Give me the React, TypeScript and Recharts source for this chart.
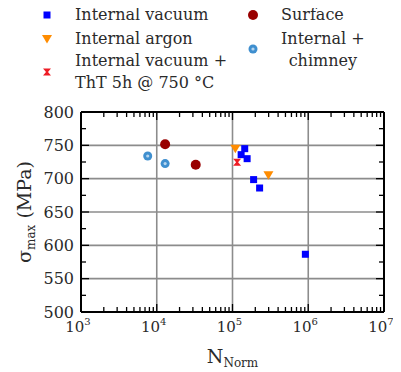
import React from 'react'
import {
  ScatterChart,
  Scatter,
  XAxis,
  YAxis,
  CartesianGrid,
  Label,
} from 'recharts'

// cycles (N_Norm) and max stress (MPa)
const vacuumN = [145000, 130000, 156000, 190000, 228000, 916000]
const vacuumS = [745, 736, 730, 698.6, 686, 586.6]
const argonN = [109000, 298000]
const argonS = [745, 705]
const thtN = [115000]
const thtS = [724.5]
const surfaceN = [12900, 32700]
const surfaceS = [751.5, 721]
const chimneyN = [7600, 12900]
const chimneyS = [734, 722.6]

const decades = [1e3, 1e4, 1e5, 1e6, 1e7]
const minorMult = [2, 3, 4, 5, 6, 7, 8, 9]
const yTicks = [500, 525, 550, 575, 600, 625, 650, 675, 700, 725, 750, 775, 800]
const yLabels = [500, 550, 600, 650, 700, 750, 800]
const gridX = [1e4, 1e5, 1e6]
const gridY = [550, 600, 650, 700, 750]

const xTicks: number[] = [...decades]
decades.slice(0, 4).forEach((d) => minorMult.forEach((m) => xTicks.push(d * m)))
xTicks.sort((a, b) => a - b)

const pts = (xs: number[], ys: number[]) => xs.map((x, i) => ({ x, y: ys[i] }))

const FONT = '"DejaVu Serif", "Liberation Serif", serif'
const TXT = '#2a2a2a'

const isDecade = (v: number) => decades.some((d) => Math.abs(d - v) < 1e-6 * d)

const Square = ({ cx, cy }: any) => (
  <rect x={cx - 3.5} y={cy - 3.5} width={7} height={7} fill="#0000ff" />
)
const TriDown = ({ cx, cy }: any) => (
  <path d={`M${cx - 5},${cy - 4} L${cx + 5},${cy - 4} L${cx},${cy + 4.5} Z`} fill="#ff8c00" />
)
const Hourglass = ({ cx, cy }: any) => (
  <path
    d={`M${cx - 4},${cy - 3.5} H${cx + 4} L${cx + 1},${cy} L${cx + 4},${cy + 3.5} H${cx - 4} L${cx - 1},${cy} Z`}
    fill="#ee1c25"
  />
)
const Dot = ({ cx, cy }: any) => <circle cx={cx} cy={cy} r={5} fill="#990000" />
const Ring = ({ cx, cy }: any) => (
  <g>
    <circle cx={cx} cy={cy} r={4.5} fill="#3f8fcf" />
    <circle cx={cx} cy={cy} r={1.6} fill="#b5d5ef" />
  </g>
)

const BottomTick = ({ x, y, payload }: any) => {
  const v = payload.value
  const major = isDecade(v)
  return (
    <g>
      <line x1={x} x2={x} y1={y} y2={y - (major ? 8 : 5)} stroke="#000" strokeWidth={1.3} />
      {major && (
        <text x={x - 3} y={y + 20} textAnchor="middle" fontFamily={FONT} fontSize={15} fill={TXT}>
          10
          <tspan dy={-7} fontSize={10}>
            {Math.round(Math.log10(v))}
          </tspan>
        </text>
      )}
    </g>
  )
}

const TopTick = ({ x, y, payload }: any) => {
  const major = isDecade(payload.value)
  return <line x1={x} x2={x} y1={y} y2={y + (major ? 8 : 5)} stroke="#000" strokeWidth={1.3} />
}

const LeftTick = ({ x, y, payload }: any) => {
  const v = payload.value
  const major = yLabels.includes(v)
  return (
    <g>
      <line x1={x} x2={x + (major ? 8 : 5)} y1={y} y2={y} stroke="#000" strokeWidth={1.3} />
      {major && (
        <text x={x - 7} y={y} dy="0.36em" textAnchor="end" fontFamily={FONT} fontSize={16} fill={TXT}>
          {v}
        </text>
      )}
    </g>
  )
}

const RightTick = ({ x, y, payload }: any) => {
  const major = yLabels.includes(payload.value)
  return <line x1={x} x2={x - (major ? 8 : 5)} y1={y} y2={y} stroke="#000" strokeWidth={1.3} />
}

const XTitle = ({ viewBox }: any) => {
  const cx = viewBox.x + viewBox.width / 2
  return (
    <text x={cx} y={viewBox.y + 51} textAnchor="middle" fontFamily={FONT} fontSize={19} fill={TXT}>
      N
      <tspan dy={4} fontSize={12}>
        Norm
      </tspan>
    </text>
  )
}

const YTitle = ({ viewBox }: any) => {
  const cy = viewBox.y + viewBox.height / 2
  const x = viewBox.x - 49
  return (
    <text
      x={x}
      y={cy}
      transform={`rotate(-90 ${x} ${cy})`}
      textAnchor="middle"
      fontFamily={FONT}
      fontSize={19}
      fill={TXT}
    >
      σ
      <tspan dy={4} fontSize={12}>
        max
      </tspan>
      <tspan dy={-4}> (MPa)</tspan>
    </text>
  )
}

const legendMarker = (Shape: any) => (
  <svg width={14} height={14} style={{ position: 'absolute', left: -7, top: -7 }}>
    <Shape cx={7} cy={7} />
  </svg>
)

const LegendItem = ({ mx, my, tx, ty, lines, shape, center }: any) => (
  <>
    <div style={{ position: 'absolute', left: mx, top: my }}>{legendMarker(shape)}</div>
    <div
      style={{
        position: 'absolute',
        left: tx,
        top: ty,
        fontFamily: FONT,
        fontSize: 16,
        lineHeight: '22px',
        color: TXT,
        whiteSpace: 'pre',
        textAlign: center ? 'center' : 'left',
      }}
    >
      {lines.join('\n')}
    </div>
  </>
)

export default function App() {
  return (
    <div style={{ position: 'relative', width: 393, height: 364 }}>
      <style>{'html, body { overflow: hidden; } .recharts-surface, .recharts-wrapper { overflow: visible !important; }'}</style>
      <ScatterChart width={393} height={364} margin={{ top: 103, right: 16, bottom: 59, left: 72 }}>
        <CartesianGrid
          xAxisId="bottom"
          yAxisId="left"
          verticalValues={gridX}
          horizontalValues={gridY}
          stroke="#8c8c8c"
          strokeWidth={1.6}
        />
        <XAxis
          xAxisId="bottom"
          dataKey="x"
          type="number"
          scale="log"
          domain={[1e3, 1e7]}
          allowDataOverflow
          ticks={xTicks}
          interval={0}
          height={1}
          tickSize={0}
          tickMargin={0}
          tickLine={false}
          tick={<BottomTick />}
          axisLine={{ stroke: '#000', strokeWidth: 2 }}
        >
          <Label content={<XTitle />} />
        </XAxis>
        <XAxis
          xAxisId="top"
          orientation="top"
          dataKey="x"
          type="number"
          scale="log"
          domain={[1e3, 1e7]}
          allowDataOverflow
          ticks={xTicks}
          interval={0}
          height={1}
          tickSize={0}
          tickMargin={0}
          tickLine={false}
          tick={<TopTick />}
          axisLine={{ stroke: '#000', strokeWidth: 2 }}
        />
        <YAxis
          yAxisId="left"
          dataKey="y"
          type="number"
          domain={[500, 800]}
          allowDataOverflow
          ticks={yTicks}
          interval={0}
          width={1}
          tickSize={0}
          tickMargin={0}
          tickLine={false}
          tick={<LeftTick />}
          axisLine={{ stroke: '#000', strokeWidth: 2 }}
        >
          <Label content={<YTitle />} />
        </YAxis>
        <YAxis
          yAxisId="right"
          orientation="right"
          dataKey="y"
          type="number"
          domain={[500, 800]}
          allowDataOverflow
          ticks={yTicks}
          interval={0}
          width={1}
          tickSize={0}
          tickMargin={0}
          tickLine={false}
          tick={<RightTick />}
          axisLine={{ stroke: '#000', strokeWidth: 2 }}
        />
        <Scatter xAxisId="bottom" yAxisId="left" name="Internal + chimney" data={pts(chimneyN, chimneyS)} shape={Ring} isAnimationActive={false} />
        <Scatter xAxisId="bottom" yAxisId="left" name="Surface" data={pts(surfaceN, surfaceS)} shape={Dot} isAnimationActive={false} />
        <Scatter xAxisId="bottom" yAxisId="left" name="Internal argon" data={pts(argonN, argonS)} shape={TriDown} isAnimationActive={false} />
        <Scatter xAxisId="bottom" yAxisId="left" name="Internal vacuum + ThT" data={pts(thtN, thtS)} shape={Hourglass} isAnimationActive={false} />
        <Scatter xAxisId="bottom" yAxisId="left" name="Internal vacuum" data={pts(vacuumN, vacuumS)} shape={Square} isAnimationActive={false} />
      </ScatterChart>

      <LegendItem mx={39} my={7} tx={67} ty={-4} lines={['Internal vacuum']} shape={Square} />
      <LegendItem mx={39} my={31} tx={67} ty={20} lines={['Internal argon']} shape={TriDown} />
      <LegendItem
        mx={39}
        my={64}
        tx={67}
        ty={42}
        lines={['Internal vacuum +', 'ThT 5h @ 750 °C']}
        shape={Hourglass}
      />
      <LegendItem mx={245} my={7} tx={273} ty={-4} lines={['Surface']} shape={Dot} />
      <LegendItem mx={245} my={41} tx={273} ty={20} lines={['Internal +', 'chimney']} shape={Ring} center />
    </div>
  )
}
